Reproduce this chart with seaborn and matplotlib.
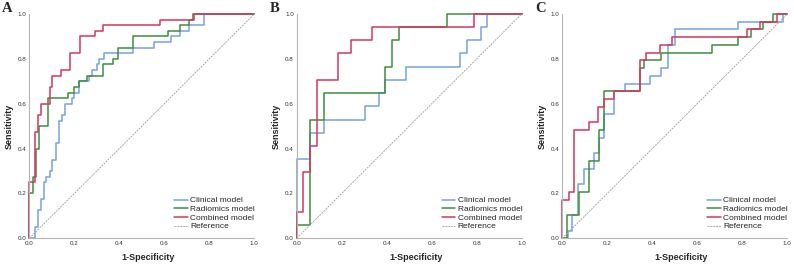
import matplotlib
matplotlib.use("Agg")
import matplotlib.pyplot as plt
import numpy as np
import pandas as pd
import seaborn as sns

# ROC corner points (1-specificity, sensitivity), drawn as post steps
models = ["Clinical model", "Radiomics model", "Combined model"]

a_clin_fpr = [0, 0.025, 0.04, 0.05, 0.065, 0.075, 0.09, 0.1, 0.118, 0.133, 0.145, 0.16, 0.19, 0.2, 0.22,
              0.266, 0.28, 0.3, 0.31, 0.33, 0.46, 0.553, 0.631, 0.668, 0.71, 0.775, 1.0]
a_clin_tpr = [0, 0.05, 0.125, 0.175, 0.25, 0.275, 0.3, 0.35, 0.425, 0.525, 0.55, 0.6, 0.625, 0.65, 0.7,
              0.725, 0.75, 0.775, 0.8, 0.825, 0.85, 0.875, 0.9, 0.925, 0.95, 1.0, 1.0]
a_rad_fpr = [0, 0, 0.015, 0.03, 0.042, 0.081, 0.17, 0.2, 0.22, 0.257, 0.328, 0.372, 0.394, 0.46,
             0.616, 0.67, 0.709, 0.727, 1.0]
a_rad_tpr = [0, 0.2, 0.275, 0.4, 0.5, 0.625, 0.65, 0.675, 0.7, 0.725, 0.775, 0.8, 0.85, 0.9,
             0.925, 0.95, 0.975, 1.0, 1.0]
a_comb_fpr = [0, 0, 0.025, 0.04, 0.05, 0.09, 0.102, 0.143, 0.183, 0.225, 0.291, 0.328, 0.579, 0.734, 1.0]
a_comb_tpr = [0, 0.25, 0.475, 0.55, 0.6, 0.675, 0.725, 0.75, 0.825, 0.9, 0.925, 0.95, 0.975, 1.0, 1.0]

b_clin_fpr = [0, 0, 0.061, 0.121, 0.303, 0.364, 0.394, 0.485, 0.727, 0.758, 0.818, 0.848, 1.0]
b_clin_tpr = [0, 0.353, 0.471, 0.529, 0.588, 0.647, 0.706, 0.765, 0.824, 0.882, 0.941, 1.0, 1.0]
b_rad_fpr = [0, 0, 0.061, 0.121, 0.394, 0.424, 0.455, 0.667, 1.0]
b_rad_tpr = [0, 0.059, 0.529, 0.647, 0.765, 0.882, 0.941, 1.0, 1.0]
b_comb_fpr = [0, 0, 0.03, 0.061, 0.091, 0.182, 0.242, 0.333, 0.788, 1.0]
b_comb_tpr = [0, 0.118, 0.294, 0.412, 0.706, 0.824, 0.882, 0.941, 1.0, 1.0]

c_clin_fpr = [0, 0.025, 0.045, 0.07, 0.095, 0.14, 0.162, 0.184, 0.23, 0.278, 0.39, 0.437, 0.471, 0.5,
              0.779, 0.979, 1.0]
c_clin_tpr = [0, 0.034, 0.103, 0.241, 0.31, 0.379, 0.448, 0.552, 0.655, 0.69, 0.724, 0.759, 0.862, 0.931,
              0.966, 1.0, 1.0]
c_rad_fpr = [0, 0.02, 0.073, 0.118, 0.162, 0.184, 0.345, 0.365, 0.437, 0.664, 0.779, 0.84, 0.89, 0.935, 1.0]
c_rad_tpr = [0, 0.103, 0.207, 0.345, 0.483, 0.655, 0.759, 0.793, 0.828, 0.862, 0.897, 0.931, 0.966, 1.0, 1.0]
c_comb_fpr = [0, 0, 0.028, 0.05, 0.118, 0.159, 0.184, 0.23, 0.345, 0.37, 0.434, 0.486, 0.82, 0.88, 0.955, 1.0]
c_comb_tpr = [0, 0.172, 0.207, 0.483, 0.517, 0.586, 0.621, 0.655, 0.793, 0.828, 0.862, 0.897, 0.931, 0.966,
              1.0, 1.0]

panels = {
    "A": [(a_clin_fpr, a_clin_tpr), (a_rad_fpr, a_rad_tpr), (a_comb_fpr, a_comb_tpr)],
    "B": [(b_clin_fpr, b_clin_tpr), (b_rad_fpr, b_rad_tpr), (b_comb_fpr, b_comb_tpr)],
    "C": [(c_clin_fpr, c_clin_tpr), (c_rad_fpr, c_rad_tpr), (c_comb_fpr, c_comb_tpr)],
}
ticks = [0.0, 0.2, 0.4, 0.6, 0.8, 1.0]

colors = {"Clinical model": "#72a2e2", "Radiomics model": "#3f8c3f", "Combined model": "#d4365f"}
ref_color = "#a8a8a8"

sns.set_style("white")
plt.rcParams["font.family"] = ["Liberation Sans", "DejaVu Sans"]

W, H = 794, 267
fig = plt.figure(figsize=(W / 100, H / 100), dpi=100)
lefts = [29.3, 296.7, 562.3]

for (letter, curves), left in zip(panels.items(), lefts):
    ax = fig.add_axes([left / W, 1 - 238.3 / H, 225 / W, 224.3 / H])
    for name, (fpr, tpr) in zip(models, curves):
        df = pd.DataFrame({"fpr": fpr, "tpr": tpr})
        sns.lineplot(data=df, x="fpr", y="tpr", sort=False, estimator=None, ax=ax,
                     color=colors[name], lw=1.1, drawstyle="steps-post", label=name, clip_on=False)
    sns.lineplot(x=[0, 1], y=[0, 1], ax=ax, color=ref_color, lw=0.7, ls=(0, (2, 1)),
                 label="Reference")
    ax.set_xlim(0, 1)
    ax.set_ylim(0, 1)
    ax.set_xticks(ticks)
    ax.set_yticks(ticks)
    ax.xaxis.set_major_formatter(matplotlib.ticker.FormatStrFormatter("%.1f"))
    ax.yaxis.set_major_formatter(matplotlib.ticker.FormatStrFormatter("%.1f"))
    ax.tick_params(length=0, labelsize=4.5, pad=2, colors="#333333")
    ax.set_xlabel("1-Specificity", fontsize=6.5, fontweight="bold")
    ax.set_ylabel("Sensitivity", fontsize=6.5, fontweight="bold")
    ax.xaxis.set_label_coords(0.53, -0.065)
    ax.yaxis.set_label_coords(-0.07, 0.5)
    sns.despine(ax=ax)
    for s in ["left", "bottom"]:
        ax.spines[s].set_color("#b4b4b4")
        ax.spines[s].set_linewidth(0.8)
    ax.grid(False)
    leg = ax.legend(loc="lower left", bbox_to_anchor=(0.645, 0.035), frameon=False, fontsize=6,
                    handlelength=1.6, handletextpad=0.3, labelspacing=0.1, borderpad=0, borderaxespad=0)
    fig.text((left - 27) / W, 1 - 2 / H, letter, fontsize=10.5, fontweight="bold",
             family="Liberation Serif", va="top", ha="left")

fig.savefig("out.png", dpi=100)
